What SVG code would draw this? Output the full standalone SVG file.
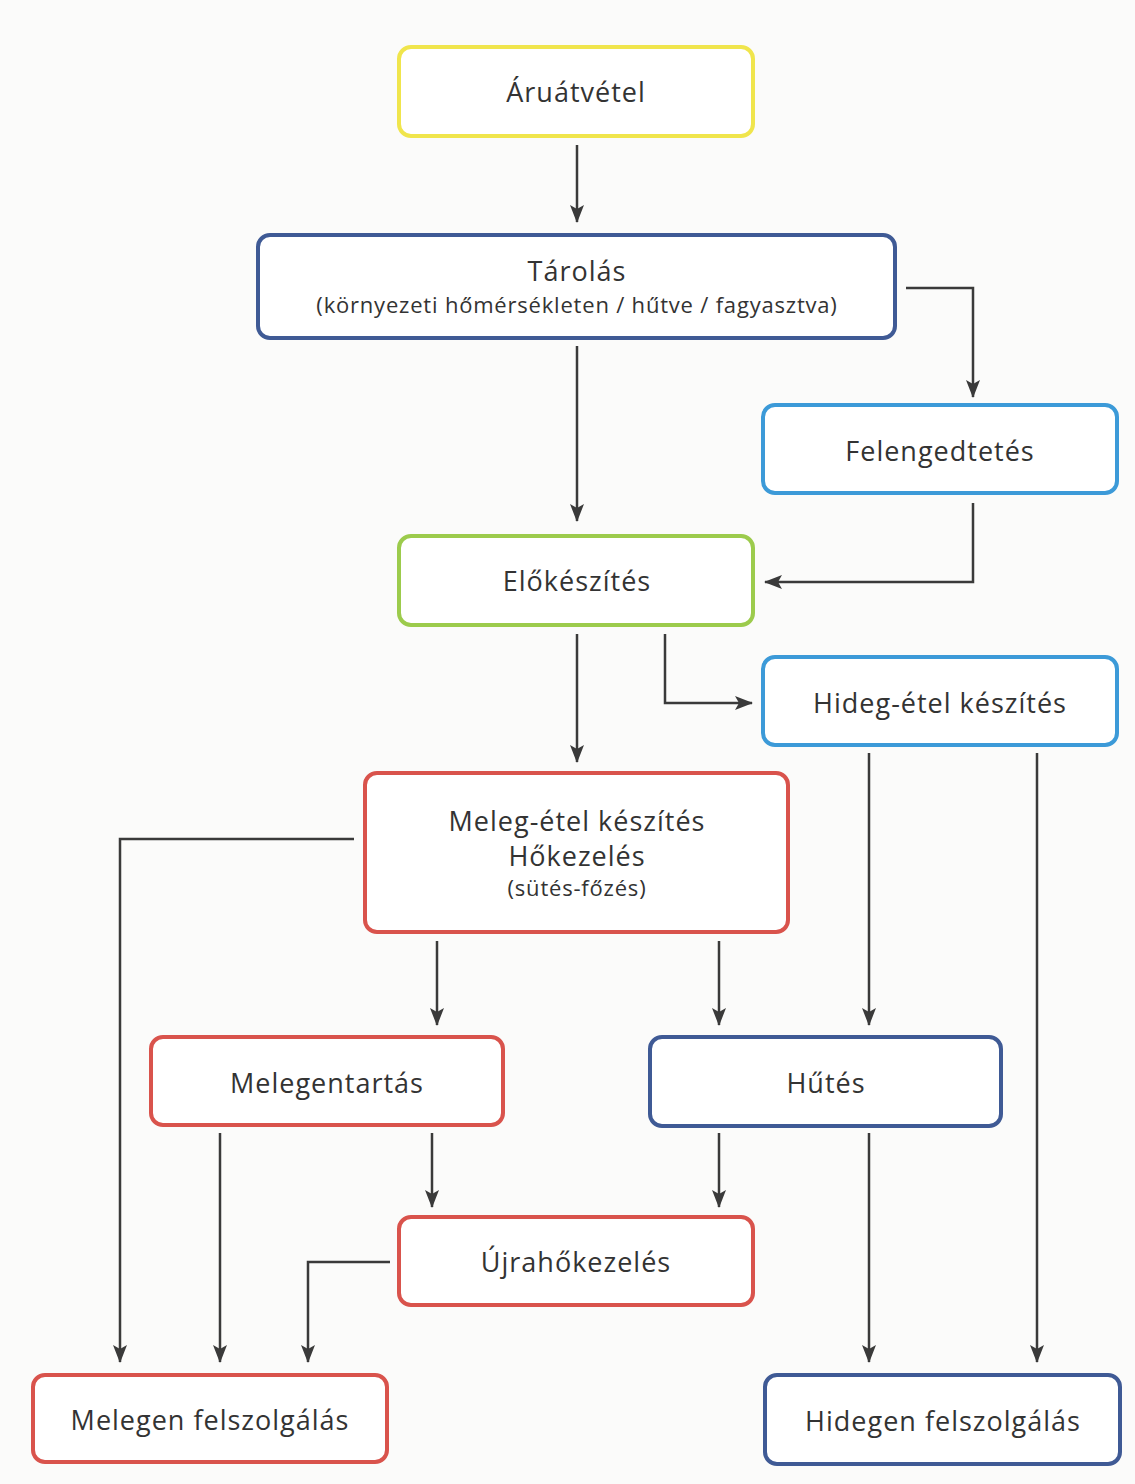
<svg xmlns="http://www.w3.org/2000/svg" width="1135" height="1484" viewBox="0 0 1135 1484">
<defs>
<marker id="ah" viewBox="0 0 18 14" refX="17" refY="7" markerWidth="18" markerHeight="14" markerUnits="userSpaceOnUse" orient="auto">
<path d="M0,0 L18,7 L0,14 L4,7 Z" fill="#3a3a3a"/>
</marker>
<style>
.n{fill:#ffffff;stroke-width:4}
.y{stroke:#f0e54c}
.db{stroke:#3f5a95}
.lb{stroke:#3c9ad8}
.g{stroke:#9ccb4c}
.r{stroke:#d9534c}
text{font-family:"Open Sans","Liberation Sans",sans-serif;fill:#333333;text-anchor:middle}
.t{font-size:27px;letter-spacing:1px}
.s{font-size:22px;letter-spacing:0.8px}
#edges path{fill:none;stroke:#3a3a3a;stroke-width:2.5;marker-end:url(#ah)}
</style>
</defs>
<rect width="1135" height="1484" fill="#fbfbfa"/>
<g id="aruatvetel"><rect class="n y" x="399" y="47" width="354" height="89" rx="12"/><text class="t" x="576" y="102">Áruátvétel</text></g>
<g id="tarolas"><rect class="n db" x="258" y="235" width="637" height="103" rx="12"/><text class="t" x="577" y="281">Tárolás</text><text class="s" x="577" y="313">(környezeti hőmérsékleten / hűtve / fagyasztva)</text></g>
<g id="felengedtetes"><rect class="n lb" x="763" y="405" width="354" height="88" rx="12"/><text class="t" x="940" y="461">Felengedtetés</text></g>
<g id="elokeszites"><rect class="n g" x="399" y="536" width="354" height="89" rx="12"/><text class="t" x="577" y="591">Előkészítés</text></g>
<g id="hidegetel"><rect class="n lb" x="763" y="657" width="354" height="88" rx="12"/><text class="t" x="940" y="713">Hideg-étel készítés</text></g>
<g id="melegetel"><rect class="n r" x="365" y="773" width="423" height="159" rx="12"/><text class="t" x="577" y="831">Meleg-étel készítés</text><text class="t" x="577" y="866">Hőkezelés</text><text class="s" x="577" y="896">(sütés-főzés)</text></g>
<g id="melegentartas"><rect class="n r" x="151" y="1037" width="352" height="88" rx="12"/><text class="t" x="327" y="1093">Melegentartás</text></g>
<g id="hutes"><rect class="n db" x="650" y="1037" width="351" height="89" rx="12"/><text class="t" x="826" y="1093">Hűtés</text></g>
<g id="ujrahokezeles"><rect class="n r" x="399" y="1217" width="354" height="88" rx="12"/><text class="t" x="576" y="1272">Újrahőkezelés</text></g>
<g id="melegenfelszolgalas"><rect class="n r" x="33" y="1375" width="354" height="87" rx="12"/><text class="t" x="210" y="1430">Melegen felszolgálás</text></g>
<g id="hidegenfelszolgalas"><rect class="n db" x="765" y="1375" width="355" height="89" rx="12"/><text class="t" x="943" y="1431">Hidegen felszolgálás</text></g>
<g id="edges">
<path d="M577,145 V222"/>
<path d="M906,288 H973 V397"/>
<path d="M577,346 V521"/>
<path d="M973,503 V582 H765"/>
<path d="M577,634 V762"/>
<path d="M665,634 V703 H752"/>
<path d="M354,839 H120 V1362"/>
<path d="M437,941 V1025"/>
<path d="M719,941 V1025"/>
<path d="M869,753 V1025"/>
<path d="M1037,753 V1362"/>
<path d="M220,1133 V1362"/>
<path d="M432,1133 V1207"/>
<path d="M719,1133 V1207"/>
<path d="M869,1133 V1362"/>
<path d="M390,1262 H308 V1362"/>
</g>
</svg>
